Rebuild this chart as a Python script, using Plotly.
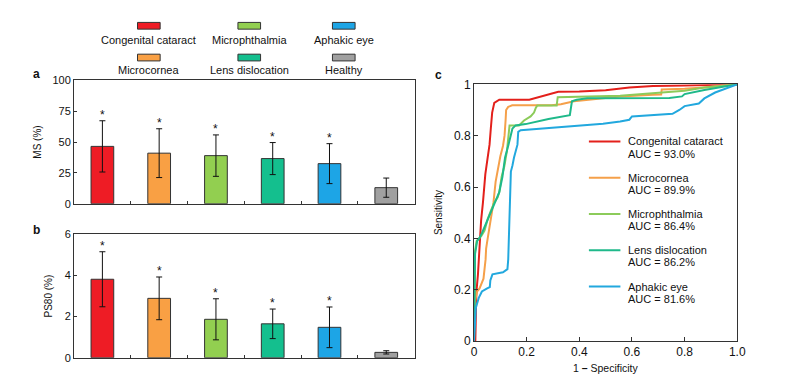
import plotly.graph_objects as go

# page is 790x391; the default 8px body margin surrounds the figure
PAGE_W, PAGE_H = 790, 391
OFF = 8
W, H = PAGE_W - 2 * OFF, PAGE_H - 2 * OFF
FONT = "Liberation Sans, Arial, sans-serif"

# ---------------- data ----------------
categories = ["Congenital cataract", "Microcornea", "Microphthalmia",
              "Lens dislocation", "Aphakic eye", "Healthy"]
bar_colors = ["#EE1C25", "#F9A044", "#92CF50", "#14BF8E", "#1DA5E6", "#A0A0A0"]
significant = [True, True, True, True, True, False]

ms_mean = [46.5, 41.0, 39.0, 36.6, 32.5, 13.0]
ms_err = [20.8, 19.8, 16.8, 13.0, 16.2, 7.8]

ps80_mean = [3.82, 2.89, 1.87, 1.65, 1.48, 0.26]
ps80_err = [1.34, 1.04, 1.00, 0.72, 0.99, 0.08]

roc_names = ["Congenital cataract", "Microcornea", "Microphthalmia",
             "Lens dislocation", "Aphakic eye"]
roc_auc = ["93.0%", "89.9%", "86.4%", "86.2%", "81.6%"]
roc_colors = ["#E3201B", "#F5A04A", "#8CCB5A", "#1FB98A", "#22A8DE"]

fpr_cc = [0, 0.005, 0.007, 0.009, 0.015, 0.018, 0.021, 0.027, 0.034, 0.038, 0.043,
          0.052, 0.059, 0.064, 0.069, 0.077, 0.096, 0.21, 0.24, 0.283, 0.32, 0.40,
          0.50, 0.59, 0.68, 0.80, 1.0]
tpr_cc = [0, 0.0, 0.10, 0.19, 0.26, 0.32, 0.40, 0.47, 0.54, 0.60, 0.65,
          0.715, 0.765, 0.83, 0.89, 0.928, 0.94, 0.94, 0.948, 0.962, 0.971, 0.972,
          0.977, 0.988, 0.993, 0.995, 1.0]

fpr_mc = [0, 0, 0.004, 0.012, 0.021, 0.036, 0.044, 0.046, 0.052, 0.062, 0.074,
          0.082, 0.09, 0.10, 0.11, 0.116, 0.12, 0.122, 0.13, 0.145, 0.294, 0.33,
          0.38, 0.43, 0.555, 0.68, 0.711, 0.713, 0.80, 0.90, 1.0]
tpr_mc = [0, 0.10, 0.156, 0.193, 0.205, 0.243, 0.318, 0.36, 0.40, 0.47, 0.54,
          0.62, 0.67, 0.72, 0.76, 0.80, 0.86, 0.90, 0.912, 0.918, 0.918, 0.922,
          0.934, 0.94, 0.953, 0.959, 0.960, 0.980, 0.983, 0.99, 1.0]

fpr_mp = [0, 0.002, 0.004, 0.01, 0.02, 0.028, 0.04, 0.052, 0.065, 0.077, 0.09,
          0.096, 0.105, 0.115, 0.125, 0.13, 0.135, 0.171, 0.19, 0.215, 0.228,
          0.235, 0.24, 0.314, 0.318, 0.555, 0.68, 0.80, 0.875, 1.0]
tpr_mp = [0, 0.20, 0.35, 0.39, 0.40, 0.41, 0.43, 0.475, 0.51, 0.54, 0.56,
          0.58, 0.64, 0.68, 0.74, 0.80, 0.84, 0.84, 0.859, 0.875, 0.89,
          0.909, 0.917, 0.917, 0.95, 0.955, 0.965, 0.975, 0.988, 1.0]

fpr_ld = [0, 0.002, 0.004, 0.012, 0.02, 0.03, 0.052, 0.077, 0.096, 0.108, 0.118,
          0.131, 0.146, 0.158, 0.196, 0.283, 0.358, 0.364, 0.372, 0.39, 0.43,
          0.742, 0.79, 0.80, 0.875, 1.0]
tpr_ld = [0, 0.20, 0.34, 0.39, 0.40, 0.42, 0.475, 0.54, 0.58, 0.64, 0.715,
          0.765, 0.828, 0.84, 0.845, 0.865, 0.877, 0.88, 0.934, 0.94, 0.946,
          0.947, 0.953, 0.962, 0.978, 1.0]

fpr_ae = [0, 0.003, 0.007, 0.018, 0.03, 0.05, 0.06, 0.062, 0.07, 0.11, 0.127,
          0.13, 0.135, 0.14, 0.146, 0.152, 0.165, 0.168, 0.177, 0.27, 0.395,
          0.49, 0.555, 0.59, 0.60, 0.68, 0.754, 0.78, 0.80, 0.854, 0.875, 0.916, 1.0]
tpr_ae = [0, 0.067, 0.13, 0.168, 0.193, 0.205, 0.21, 0.236, 0.26, 0.268, 0.28,
          0.318, 0.50, 0.66, 0.684, 0.715, 0.765, 0.815, 0.821, 0.828, 0.84,
          0.846, 0.855, 0.862, 0.875, 0.88, 0.885, 0.90, 0.915, 0.925, 0.945, 0.968, 1.0]

roc_fpr = [fpr_cc, fpr_mc, fpr_mp, fpr_ld, fpr_ae]
roc_tpr = [tpr_cc, tpr_mc, tpr_mp, tpr_ld, tpr_ae]

# ---------------- helpers (page pixels -> paper fraction) ----------------
def px_x(x):
    return (x - OFF) / W

def px_y(y):
    return 1 - (y - OFF) / H

fig = go.Figure()

# Panel a bars
fig.add_trace(go.Bar(
    x=categories, y=ms_mean, width=0.4,
    marker=dict(color=bar_colors, line=dict(color="#333333", width=1)),
    error_y=dict(type="data", array=ms_err, color="#111111", thickness=1, width=3),
    xaxis="x", yaxis="y", showlegend=False, hoverinfo="skip"))

# Panel b bars
fig.add_trace(go.Bar(
    x=categories, y=ps80_mean, width=0.4,
    marker=dict(color=bar_colors, line=dict(color="#333333", width=1)),
    error_y=dict(type="data", array=ps80_err, color="#111111", thickness=1, width=3),
    xaxis="x2", yaxis="y2", showlegend=False, hoverinfo="skip"))

# Panel c ROC curves
for name, fx, ty, col in zip(roc_names, roc_fpr, roc_tpr, roc_colors):
    fig.add_trace(go.Scatter(
        x=fx, y=ty, mode="lines", name=name, hoverinfo="skip",
        line=dict(color=col, width=2), xaxis="x3", yaxis="y3", showlegend=False))

annotations = []
shapes = []

# significance stars
for cat, m, e, s in zip(categories, ms_mean, ms_err, significant):
    if s:
        annotations.append(dict(x=cat, y=m + e, xref="x", yref="y", text="*",
                                showarrow=False, yanchor="bottom", yshift=-3,
                                font=dict(size=12, color="#111111", family=FONT)))
for cat, m, e, s in zip(categories, ps80_mean, ps80_err, significant):
    if s:
        annotations.append(dict(x=cat, y=m + e, xref="x2", yref="y2", text="*",
                                showarrow=False, yanchor="bottom", yshift=-3,
                                font=dict(size=12, color="#111111", family=FONT)))

# top legend (3 columns x 2 rows, swatch above label)
col_cx = [148, 250, 346]
row_rect_cy = [19.2, 52.2]
row_text_cy = [33.8, 65.3]
for i, (cat, col) in enumerate(zip(categories, bar_colors)):
    c = i // 2
    r = i % 2
    cx = col_cx[c]
    cy = row_rect_cy[r]
    shapes.append(dict(type="rect", xref="paper", yref="paper",
                       x0=px_x(cx - 11.5), x1=px_x(cx + 11.5),
                       y0=px_y(cy + 3.5), y1=px_y(cy - 3.5),
                       fillcolor=col, line=dict(color="#333333", width=1)))
    annotations.append(dict(x=px_x(cx), y=px_y(row_text_cy[r]), xref="paper", yref="paper",
                            text=cat, showarrow=False, xanchor="center", yanchor="middle",
                            font=dict(size=11, color="#111111", family=FONT)))

# ROC legend
leg_y0 = 139.3
leg_dy = 37.7
for i, (name, auc, col) in enumerate(zip(roc_names, roc_auc, roc_colors)):
    yy = leg_y0 + i * leg_dy
    shapes.append(dict(type="line", xref="paper", yref="paper",
                       x0=px_x(595), x1=px_x(627), y0=px_y(yy), y1=px_y(yy),
                       line=dict(color=col, width=2)))
    annotations.append(dict(x=px_x(633), y=px_y(yy), xref="paper", yref="paper",
                            text=name, showarrow=False, xanchor="left", yanchor="middle",
                            font=dict(size=11, color="#111111", family=FONT)))
    annotations.append(dict(x=px_x(633), y=px_y(yy + 12.6), xref="paper", yref="paper",
                            text="AUC = " + auc, showarrow=False, xanchor="left", yanchor="middle",
                            font=dict(size=11, color="#111111", family=FONT)))

# panel letters
for letter, x, y in [("a", 34, 69), ("b", 34, 231), ("c", 442, 70)]:
    annotations.append(dict(x=px_x(x), y=px_y(y), xref="paper", yref="paper",
                            text="<b>" + letter + "</b>", showarrow=False,
                            xanchor="center", yanchor="middle",
                            font=dict(size=12, color="#111111", family=FONT)))

# axis titles as annotations for precise placement
annotations.append(dict(x=px_x(34), y=px_y(140), xref="paper", yref="paper", text="MS (%)",
                        textangle=-90, showarrow=False, xanchor="center", yanchor="middle",
                        font=dict(size=10, color="#111111", family=FONT)))
annotations.append(dict(x=px_x(46), y=px_y(300), xref="paper", yref="paper", text="PS80 (%)",
                        textangle=-90, showarrow=False, xanchor="center", yanchor="middle",
                        font=dict(size=10, color="#111111", family=FONT)))
annotations.append(dict(x=px_x(442.5), y=px_y(213), xref="paper", yref="paper", text="Sensitivity",
                        textangle=-90, showarrow=False, xanchor="center", yanchor="middle",
                        font=dict(size=10, color="#111111", family=FONT)))
annotations.append(dict(x=px_x(612), y=px_y(375), xref="paper", yref="paper",
                        text="1 <b>\u2013</b> Specificity",
                        showarrow=False, xanchor="center", yanchor="middle",
                        font=dict(size=10.5, color="#111111", family=FONT)))

frame = dict(showline=True, mirror=True, linecolor="#333333", linewidth=1,
             showgrid=False, zeroline=False)
tickf = dict(size=11, color="#111111", family=FONT)

xa_dom = [px_x(72), px_x(418)]
fig.update_layout(
    width=W, height=H,
    margin=dict(l=0, r=0, t=0, b=0),
    paper_bgcolor="white", plot_bgcolor="white",
    font=dict(family=FONT, color="#111111"),
    bargap=0.6,
    hovermode=False,
    xaxis=dict(domain=xa_dom, anchor="y", type="category", range=[-0.5, 5.5],
               showticklabels=False, ticks="inside", tickson="boundaries", ticklen=3,
               tickcolor="#333333", **frame),
    yaxis=dict(domain=[px_y(204), px_y(76)], anchor="x", range=[0, 100],
               tickvals=[0, 25, 50, 75, 100], ticks="inside", ticklen=3,
               tickcolor="#333333", tickfont=tickf, **frame),
    xaxis2=dict(domain=xa_dom, anchor="y2", type="category", range=[-0.5, 5.5],
                showticklabels=False, ticks="inside", tickson="boundaries", ticklen=3,
                tickcolor="#333333", **frame),
    yaxis2=dict(domain=[px_y(364), px_y(236)], anchor="x2", range=[0, 6],
                tickvals=[0, 2, 4, 6], ticks="inside", ticklen=3,
                tickcolor="#333333", tickfont=tickf, **frame),
    xaxis3=dict(domain=[px_x(478.3), px_x(745.7)], anchor="y3", range=[0, 1],
                tickvals=[0, 0.2, 0.4, 0.6, 0.8, 1.0],
                ticktext=["0", "0.2", "0.4", "0.6", "0.8", "1.0"],
                ticks="inside", ticklen=4, tickcolor="#333333",
                tickfont=dict(size=12, color="#111111", family=FONT), **frame),
    yaxis3=dict(domain=[px_y(346.7), px_y(80)], anchor="x3", range=[0, 1],
                tickvals=[0, 0.2, 0.4, 0.6, 0.8, 1.0],
                ticktext=["0", "0.2", "0.4", "0.6", "0.8", "1"],
                ticks="inside", ticklen=4, tickcolor="#333333",
                tickfont=dict(size=12, color="#111111", family=FONT), **frame),
    annotations=annotations,
    shapes=shapes,
)

fig.write_html("out.html", config={"displayModeBar": False, "staticPlot": True})
